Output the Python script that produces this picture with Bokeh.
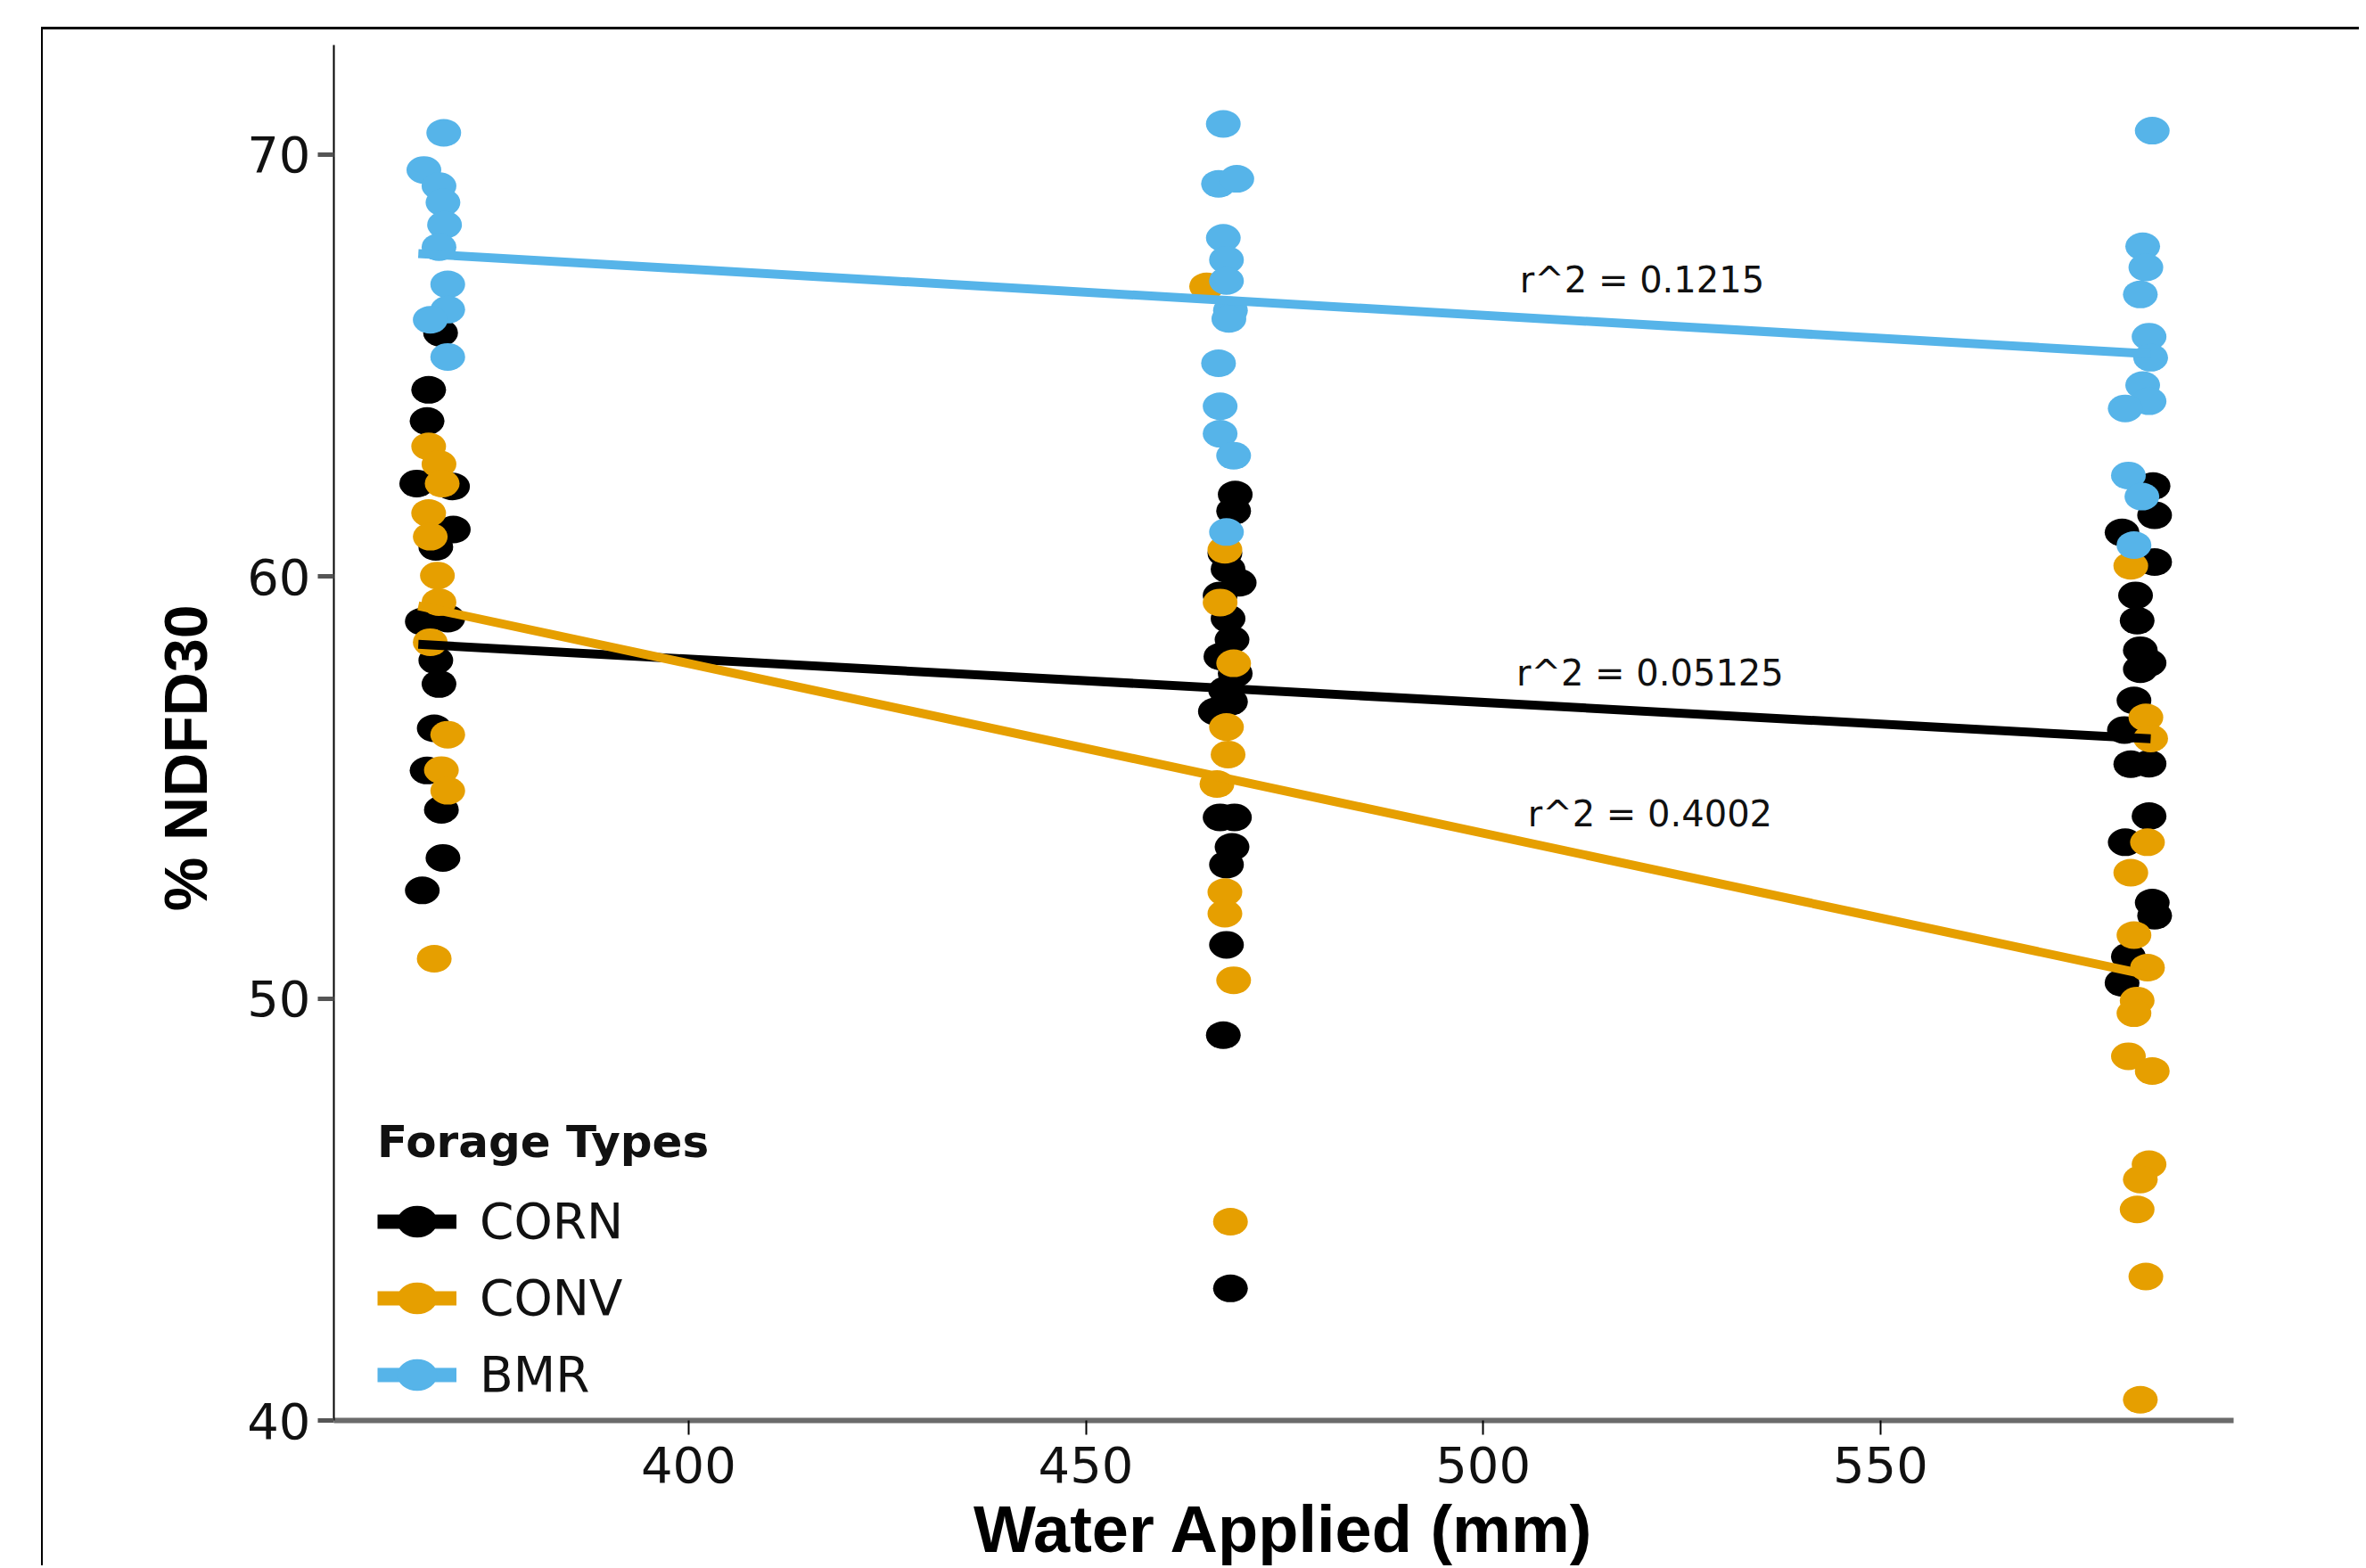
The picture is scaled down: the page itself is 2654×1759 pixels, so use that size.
from bokeh.plotting import figure
from bokeh.models import Range1d, Legend, LegendItem, FixedTicker
from bokeh.embed import file_html
from bokeh.resources import INLINE
from bokeh.core.properties import value

FONT = "Liberation Sans"
WIDE = "DejaVu Sans"

# ---------------- data ----------------
corn_x = [368.8, 367.3, 367.1, 365.8, 370.3, 370.4, 368.2, 366.5, 369.7, 368.2, 368.6, 368.0, 367.1, 368.9, 369.1, 366.5,
          468.8, 468.6, 467.5, 467.9, 469.3, 466.9, 467.9, 468.4, 467.0, 468.8, 467.6, 468.2, 466.3, 466.9, 468.7, 468.4, 467.7, 467.7, 467.3, 468.2,
          584.3, 584.5, 580.4, 584.5, 582.1, 582.3, 582.7, 583.8, 582.7, 581.9, 580.7, 583.8, 581.5, 583.8, 580.8, 584.2, 584.5, 581.2, 580.4]
corn_y = [65.77, 64.42, 63.68, 62.20, 62.13, 61.11, 60.70, 58.93, 59.00, 58.01, 57.45, 56.40, 55.40, 54.47, 53.33, 52.56,
          61.94, 61.55, 60.55, 60.17, 59.85, 59.55, 59.00, 58.50, 58.10, 57.70, 57.30, 57.03, 56.80, 54.29, 54.29, 53.59, 53.17, 51.27, 49.13, 43.13,
          62.14, 61.45, 61.04, 60.34, 59.55, 58.95, 58.25, 57.95, 57.80, 57.06, 56.36, 55.56, 55.55, 54.32, 53.70, 52.27, 51.96, 50.99, 50.37]

conv_x = [367.3, 368.6, 369.0, 367.3, 367.5, 368.4, 368.6, 367.5, 369.7, 368.9, 369.7, 368.0,
          465.2, 467.5, 466.9, 468.6, 467.7, 467.9, 466.5, 467.5, 467.5, 468.6, 468.2,
          581.5, 583.4, 584.0, 583.6, 581.5, 581.9, 583.6, 582.3, 581.9, 581.2, 584.2, 583.8, 582.7, 582.3, 583.4, 582.7]
conv_y = [63.08, 62.66, 62.20, 61.50, 60.94, 60.02, 59.39, 58.44, 56.25, 55.41, 54.92, 50.94,
          66.87, 60.63, 59.38, 57.94, 56.43, 55.78, 55.08, 52.52, 52.01, 50.43, 44.71,
          60.25, 56.66, 56.16, 53.70, 52.98, 51.50, 50.73, 49.95, 49.65, 48.63, 48.28, 46.07, 45.71, 45.00, 43.41, 40.49]

bmr_x = [369.2, 366.7, 368.6, 369.1, 369.3, 368.6, 369.7, 369.7, 367.5, 369.7,
         467.3, 466.7, 469.0, 467.3, 467.7, 467.7, 468.2, 468.0, 466.7, 466.9, 466.9, 468.6, 467.7,
         584.2, 583.0, 583.4, 582.7, 583.8, 584.0, 583.0, 583.8, 580.8, 581.2, 582.9, 581.9]
bmr_y = [70.51, 69.63, 69.25, 68.86, 68.33, 67.80, 66.92, 66.32, 66.08, 65.20,
         70.72, 69.30, 69.42, 68.02, 67.50, 67.00, 66.30, 66.10, 65.05, 64.03, 63.38, 62.86, 61.05,
         70.56, 67.82, 67.32, 66.68, 65.68, 65.18, 64.53, 64.15, 63.98, 62.39, 61.89, 60.74]

# fitted regression lines (end points)
fit_x = [366.0, 584.0]
corn_fit = [58.39, 56.15]
conv_fit = [59.30, 50.54]
bmr_fit = [67.65, 65.27]

r2_labels = ["r^2 = 0.1215", "r^2 = 0.05125", "r^2 = 0.4002"]
r2_x = [520.0, 521.0, 521.0]
r2_y = [67.03, 57.70, 54.37]

x_ticks = [400, 450, 500, 550]
y_ticks = [40, 50, 60, 70]

groups = ["CORN", "CONV", "BMR"]
colors = {"CORN": "#000000", "CONV": "#E69F00", "BMR": "#56B4E9"}
nan = float("nan")

# ---------------- figure ----------------
p = figure(width=2600, height=1726, output_backend="svg", toolbar_location=None,
           x_range=Range1d(355.37, 594.44), y_range=Range1d(40, 72.59),
           min_border_left=326, min_border_top=17, min_border_right=143, min_border_bottom=166)
p.margin = (30, 0, 0, 46)
p.styles = {"border-top": "3px solid #000000", "border-left": "2px solid #000000"}
p.xgrid.visible = False
p.ygrid.visible = False
p.outline_line_color = None
p.background_fill_color = "white"
p.border_fill_color = "white"

pts = {}
for g, xs, ys in [("CORN", corn_x, corn_y), ("CONV", conv_x, conv_y), ("BMR", bmr_x, bmr_y)]:
    pts[g] = p.ellipse(x=xs, y=ys, width=39, height=31, width_units="screen", height_units="screen",
                       fill_color=colors[g], line_color=None)

for g, fy in [("CORN", corn_fit), ("CONV", conv_fit), ("BMR", bmr_fit)]:
    p.line(x=fit_x, y=fy, line_width=10, line_color=colors[g])

p.text(x=r2_x, y=r2_y, text=r2_labels, text_align="center", text_baseline="middle",
       text_font=value(WIDE), text_font_size="40px", text_color="#111111")

# legend-only line keys (no visible data)
leg_lines = {g: p.line(x=[nan], y=[nan], line_width=16, line_color=colors[g]) for g in groups}

legend = Legend(items=[LegendItem(label=g, renderers=[leg_lines[g], pts[g]]) for g in groups],
                location=(49, 19), title="Forage Types",
                title_text_font=WIDE, title_text_font_style="bold", title_text_font_size="50px",
                title_text_color="#111111", title_standoff=28,
                label_text_font=WIDE, label_text_font_size="55px", label_text_color="#111111",
                glyph_width=89, glyph_height=56, label_height=56, spacing=22, label_standoff=26,
                padding=0, margin=0, border_line_color=None, background_fill_alpha=0)
p.add_layout(legend)

# axes
p.xaxis.ticker = FixedTicker(ticks=x_ticks)
p.yaxis.ticker = FixedTicker(ticks=y_ticks)
p.xaxis.axis_line_width = 6
p.xaxis.axis_line_color = "#6b6b6b"
p.xaxis.major_tick_line_color = "#000000"
p.xaxis.major_tick_line_width = 2
p.xaxis.major_tick_out = 16
p.xaxis.major_tick_in = 0
p.xaxis.minor_tick_line_color = None
p.xaxis.major_label_standoff = 13
p.xaxis.major_label_text_font = WIDE
p.xaxis.major_label_text_font_size = "56px"
p.xaxis.major_label_text_color = "#111111"
p.xaxis.axis_label = "Water Applied (mm)"
p.xaxis.axis_label_text_font = FONT
p.xaxis.axis_label_text_font_style = "bold"
p.xaxis.axis_label_text_font_size = "74px"
p.xaxis.axis_label_text_color = "#000000"
p.xaxis.axis_label_standoff = 8

p.yaxis.axis_line_width = 2
p.yaxis.axis_line_color = "#000000"
p.yaxis.major_tick_line_color = "#555555"
p.yaxis.major_tick_line_width = 5
p.yaxis.major_tick_out = 18
p.yaxis.major_tick_in = 0
p.yaxis.minor_tick_line_color = None
p.yaxis.major_label_standoff = 8
p.yaxis.major_label_text_font = WIDE
p.yaxis.major_label_text_font_size = "56px"
p.yaxis.major_label_text_color = "#111111"
p.yaxis.axis_label = "% NDFD30\u00a0\u00a0\u00a0"
p.yaxis.axis_label_text_font = FONT
p.yaxis.axis_label_text_font_style = "bold"
p.yaxis.axis_label_text_font_size = "68px"
p.yaxis.axis_label_text_color = "#000000"
p.yaxis.axis_label_standoff = 28

open("out.html", "w").write(file_html(p, INLINE))
